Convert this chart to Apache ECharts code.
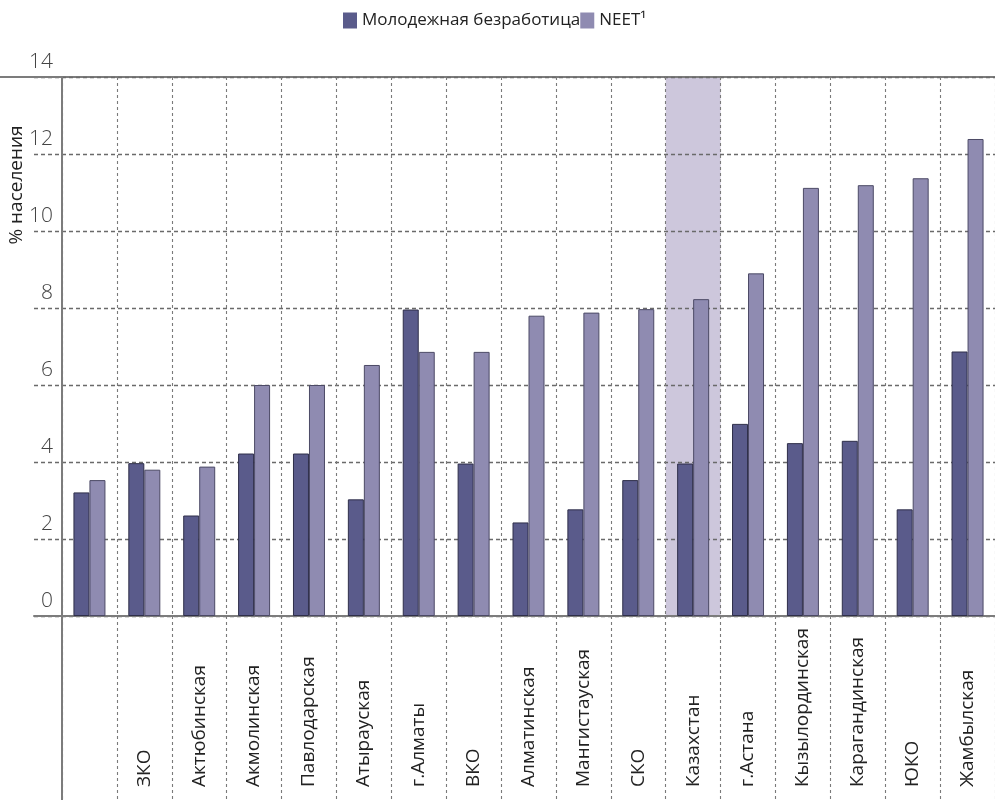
<!DOCTYPE html>
<html>
<head>
<meta charset="utf-8">
<script src="https://cdn.jsdelivr.net/npm/echarts@6/dist/echarts.min.js"></script>
<style>
html,body{margin:0;padding:0;background:#fff;}
#chart{width:995px;height:800px;}
</style>
</head>
<body>
<div id="chart"></div>
<script>
const categories = ['', 'ЗКО', 'Актюбинская', 'Акмолинская', 'Павлодарская', 'Атырауская', 'г.Алматы', 'ВКО', 'Алматинская', 'Мангистауская', 'СКО', 'Казахстан', 'г.Астана', 'Кызылординская', 'Карагандинская', 'ЮКО', 'Жамбылская'];
const youthUnemployment = [3.21, 3.97, 2.61, 4.22, 4.22, 3.03, 7.96, 3.96, 2.43, 2.77, 3.53, 3.96, 4.99, 4.49, 4.55, 2.77, 6.87];
const neet = [3.53, 3.80, 3.88, 6.00, 6.00, 6.52, 6.86, 6.86, 7.80, 7.88, 7.97, 8.23, 8.90, 11.12, 11.19, 11.37, 12.39];
const seriesNames = ['Молодежная безработица', 'NEET¹'];
const highlighted = 'Казахстан';
const yMin = 0, yMax = 14, yStep = 2;
const yAxisTitle = '% населения';

const highlightData = categories.map(c => c === highlighted ? yMax : '-');

const gridDash = {color: '#6a6a6a', width: 1.3, type: [4, 3]};
const vDash = {color: '#7a7a7a', width: 1.1, type: [3, 3]};
const solidAxis = {color: '#7c7c7c', width: 2};

const chart = echarts.init(document.getElementById('chart'), null, {renderer: 'canvas'});
chart.setOption({
  animation: false,
  legend: {
    data: seriesNames,
    left: 338, top: 7,
    itemWidth: 14, itemHeight: 16, itemGap: 0,
    icon: 'rect',
    itemStyle: {borderWidth: 0},
    textStyle: {fontFamily: 'Open Sans', fontSize: 17, color: '#222'}
  },
  grid: [
    {left: 62, top: 77, width: 935, height: 539},
    {left: 34, top: 77, width: 28, height: 539},
    {left: 62, top: 616, width: 935, height: 184},
    {left: 0, top: 77, width: 995, height: 539},
    {left: 28, top: 100, width: 10, height: 170}
  ],
  xAxis: [
    {gridIndex: 0, type: 'category', data: categories, boundaryGap: true,
     axisLine: {show: true, lineStyle: solidAxis}, axisTick: {show: false},
     axisLabel: {interval: 0, rotate: 90, align: 'left', verticalAlign: 'middle', margin: 171,
       fontFamily: 'Open Sans', fontSize: 19, color: '#222'},
     splitLine: {show: true, interval: 0, lineStyle: vDash}, z: 1},
    {gridIndex: 0, type: 'category', data: categories, show: false},
    {gridIndex: 1, type: 'value', min: 0, max: 1, axisLine: {show: true, lineStyle: solidAxis},
     axisTick: {show: false}, axisLabel: {show: false}, splitLine: {show: false}},
    {gridIndex: 2, type: 'category', data: categories, boundaryGap: true,
     axisLine: {show: false}, axisTick: {show: false}, axisLabel: {show: false},
     splitLine: {show: true, interval: 0, lineStyle: vDash}},
    {gridIndex: 3, type: 'value', position: 'top', min: 0, max: 1,
     axisLine: {show: true, onZero: false, lineStyle: solidAxis}, axisTick: {show: false},
     axisLabel: {show: false}, splitLine: {show: false}},
    {gridIndex: 4, type: 'value', show: false}
  ],
  yAxis: [
    {gridIndex: 0, type: 'value', min: yMin, max: yMax, interval: yStep,
     axisLine: {show: true, lineStyle: solidAxis}, axisTick: {show: false},
     axisLabel: {margin: 9, verticalAlign: 'bottom', padding: [0, 0, 4, 0],
       fontFamily: 'Open Sans', fontWeight: 300, fontSize: 21, color: '#444'},
     splitLine: {show: true, lineStyle: gridDash}, z: 1},
    {gridIndex: 1, type: 'value', min: yMin, max: yMax, interval: yStep,
     axisLine: {show: false}, axisTick: {show: false}, axisLabel: {show: false},
     splitLine: {show: true, lineStyle: gridDash}},
    {gridIndex: 2, type: 'value', min: 0, max: 1,
     axisLine: {show: true, lineStyle: solidAxis}, axisTick: {show: false},
     axisLabel: {show: false}, splitLine: {show: false}},
    {gridIndex: 3, type: 'value', show: false},
    {gridIndex: 4, type: 'value', min: 0, max: 1,
     axisLine: {show: false}, axisTick: {show: false}, axisLabel: {show: false}, splitLine: {show: false},
     name: yAxisTitle, nameLocation: 'middle', nameGap: 2, nameRotate: 90,
     nameTextStyle: {fontFamily: 'Open Sans', fontSize: 19, color: '#222'}}
  ],
  series: [
    {type: 'bar', name: 'highlight', xAxisIndex: 1, yAxisIndex: 0, data: highlightData,
     barWidth: '100%', silent: true, z: -1, itemStyle: {color: '#cdc7dc'}},
    {type: 'bar', name: seriesNames[0], xAxisIndex: 0, yAxisIndex: 0, data: youthUnemployment,
     barWidth: 16, barGap: '0%',
     itemStyle: {color: '#5a5b8b', borderColor: '#2f2f4a', borderWidth: 1}},
    {type: 'bar', name: seriesNames[1], xAxisIndex: 0, yAxisIndex: 0, data: neet,
     barWidth: 16, barGap: '0%',
     itemStyle: {color: '#8f8bb1', borderColor: '#4c4a66', borderWidth: 1}}
  ]
});
</script>
</body>
</html>
